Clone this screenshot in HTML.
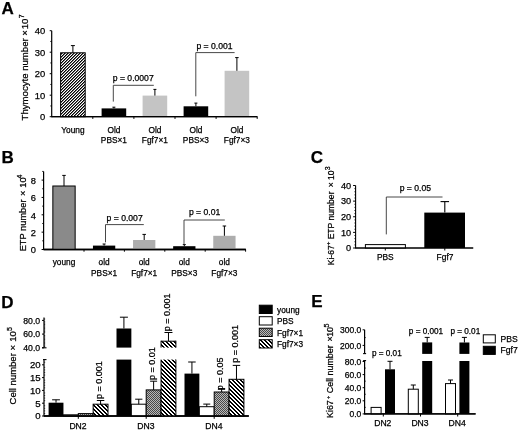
<!DOCTYPE html>
<html><head><meta charset="utf-8"><style>
html,body{margin:0;padding:0;background:#fff;}
svg{display:block;filter:blur(0.3px);font-family:"Liberation Sans", sans-serif;}
text{stroke:#000;stroke-width:0.25px;}
</style></head><body>
<svg width="520" height="432" viewBox="0 0 520 432">
<defs>
<pattern id="hatchA" patternUnits="userSpaceOnUse" width="3" height="3">
<rect width="3" height="3" fill="#000"/>
<rect x="1" y="0" width="1" height="1" fill="#707070"/><rect x="2" y="0" width="1" height="1" fill="#fff"/><rect x="0" y="1" width="1" height="1" fill="#707070"/><rect x="1" y="1" width="1" height="1" fill="#fff"/><rect x="0" y="2" width="1" height="1" fill="#fff"/><rect x="2" y="2" width="1" height="1" fill="#707070"/>
</pattern>
<pattern id="hatchD" patternUnits="userSpaceOnUse" width="4" height="4">
<rect width="4" height="4" fill="#000"/>
<rect x="2" y="0" width="1" height="1" fill="#fff"/><rect x="3" y="0" width="1" height="1" fill="#fff"/><rect x="0" y="1" width="1" height="1" fill="#fff"/><rect x="3" y="1" width="1" height="1" fill="#fff"/><rect x="0" y="2" width="1" height="1" fill="#fff"/><rect x="1" y="2" width="1" height="1" fill="#fff"/><rect x="1" y="3" width="1" height="1" fill="#fff"/><rect x="2" y="3" width="1" height="1" fill="#fff"/>
</pattern>
<pattern id="stipB" patternUnits="userSpaceOnUse" width="2" height="2">
<rect width="2" height="2" fill="#a8a8a8"/>
<rect width="1" height="1" fill="#6e6e6e"/><rect x="1" y="1" width="1" height="1" fill="#6e6e6e"/>
</pattern>
<pattern id="stipD" patternUnits="userSpaceOnUse" width="2" height="2">
<rect width="2" height="2" fill="#b8b8b8"/>
<rect width="1" height="1" fill="#484848"/><rect x="1" y="1" width="1" height="1" fill="#484848"/>
</pattern>
</defs>
<rect width="520" height="432" fill="#fff"/>
<text x="1.50" y="14.20" font-size="17" text-anchor="start" font-weight="bold" fill="#000" >A</text>
<line x1="51.70" y1="30.70" x2="51.70" y2="117.20" stroke="#000" stroke-width="1.2"/>
<line x1="49.70" y1="116.70" x2="51.70" y2="116.70" stroke="#000" stroke-width="1"/>
<text x="45.20" y="120.20" font-size="9.4" text-anchor="end" font-weight="normal" fill="#000" >0</text>
<line x1="49.70" y1="95.20" x2="51.70" y2="95.20" stroke="#000" stroke-width="1"/>
<text x="45.20" y="98.70" font-size="9.4" text-anchor="end" font-weight="normal" fill="#000" >10</text>
<line x1="49.70" y1="73.70" x2="51.70" y2="73.70" stroke="#000" stroke-width="1"/>
<text x="45.20" y="77.20" font-size="9.4" text-anchor="end" font-weight="normal" fill="#000" >20</text>
<line x1="49.70" y1="52.20" x2="51.70" y2="52.20" stroke="#000" stroke-width="1"/>
<text x="45.20" y="55.70" font-size="9.4" text-anchor="end" font-weight="normal" fill="#000" >30</text>
<line x1="49.70" y1="30.70" x2="51.70" y2="30.70" stroke="#000" stroke-width="1"/>
<text x="45.20" y="34.20" font-size="9.4" text-anchor="end" font-weight="normal" fill="#000" >40</text>
<line x1="50.40" y1="105.95" x2="51.70" y2="105.95" stroke="#000" stroke-width="1"/>
<line x1="50.40" y1="84.45" x2="51.70" y2="84.45" stroke="#000" stroke-width="1"/>
<line x1="50.40" y1="62.95" x2="51.70" y2="62.95" stroke="#000" stroke-width="1"/>
<line x1="50.40" y1="41.45" x2="51.70" y2="41.45" stroke="#000" stroke-width="1"/>
<line x1="51.70" y1="116.70" x2="257.30" y2="116.70" stroke="#000" stroke-width="1.3"/>
<line x1="92.80" y1="116.70" x2="92.80" y2="118.90" stroke="#000" stroke-width="1"/>
<line x1="133.90" y1="116.70" x2="133.90" y2="118.90" stroke="#000" stroke-width="1"/>
<line x1="175.00" y1="116.70" x2="175.00" y2="118.90" stroke="#000" stroke-width="1"/>
<line x1="216.10" y1="116.70" x2="216.10" y2="118.90" stroke="#000" stroke-width="1"/>
<line x1="257.20" y1="116.70" x2="257.20" y2="118.90" stroke="#000" stroke-width="1"/>
<rect x="60.60" y="52.80" width="24.60" height="63.90" fill="url(#hatchA)" stroke="#000" stroke-width="1"/>
<line x1="72.90" y1="52.80" x2="72.90" y2="45.60" stroke="#000" stroke-width="1"/>
<line x1="70.90" y1="45.60" x2="74.90" y2="45.60" stroke="#000" stroke-width="1"/>
<rect x="101.60" y="108.40" width="24.60" height="8.30" fill="#000"/>
<line x1="113.90" y1="108.40" x2="113.90" y2="107.20" stroke="#000" stroke-width="1"/>
<line x1="112.40" y1="107.20" x2="115.40" y2="107.20" stroke="#000" stroke-width="1"/>
<rect x="142.60" y="95.60" width="24.60" height="21.10" fill="#c4c4c4"/>
<line x1="154.90" y1="95.60" x2="154.90" y2="89.40" stroke="#000" stroke-width="1"/>
<line x1="153.40" y1="89.40" x2="156.40" y2="89.40" stroke="#000" stroke-width="1"/>
<rect x="183.60" y="106.30" width="24.60" height="10.40" fill="#000"/>
<line x1="195.90" y1="106.30" x2="195.90" y2="103.10" stroke="#000" stroke-width="1"/>
<line x1="194.40" y1="103.10" x2="197.40" y2="103.10" stroke="#000" stroke-width="1"/>
<rect x="224.60" y="70.80" width="24.60" height="45.90" fill="#c4c4c4"/>
<line x1="236.90" y1="70.80" x2="236.90" y2="57.60" stroke="#000" stroke-width="1"/>
<line x1="235.15" y1="57.60" x2="238.65" y2="57.60" stroke="#000" stroke-width="1"/>
<line x1="51.70" y1="116.70" x2="257.30" y2="116.70" stroke="#000" stroke-width="1.3"/>
<line x1="113.30" y1="101.60" x2="113.30" y2="85.30" stroke="#333" stroke-width="0.9"/>
<line x1="113.30" y1="85.30" x2="153.80" y2="85.30" stroke="#333" stroke-width="0.9"/>
<text x="112.80" y="80.60" font-size="8.6" text-anchor="start" font-weight="normal" fill="#000" >p = 0.0007</text>
<line x1="195.80" y1="96.30" x2="195.80" y2="52.60" stroke="#333" stroke-width="0.9"/>
<line x1="195.80" y1="52.60" x2="234.60" y2="52.60" stroke="#333" stroke-width="0.9"/>
<text x="196.40" y="49.40" font-size="8.6" text-anchor="start" font-weight="normal" fill="#000" >p = 0.001</text>
<text x="72.90" y="133.10" font-size="8.3" text-anchor="middle" font-weight="normal" fill="#000" >Young</text>
<text x="113.90" y="133.10" font-size="8.3" text-anchor="middle" font-weight="normal" fill="#000" >Old</text>
<text x="113.90" y="142.90" font-size="8.3" text-anchor="middle" font-weight="normal" fill="#000" >PBS×1</text>
<text x="154.90" y="133.10" font-size="8.3" text-anchor="middle" font-weight="normal" fill="#000" >Old</text>
<text x="154.90" y="142.90" font-size="8.3" text-anchor="middle" font-weight="normal" fill="#000" >Fgf7×1</text>
<text x="195.90" y="133.10" font-size="8.3" text-anchor="middle" font-weight="normal" fill="#000" >Old</text>
<text x="195.90" y="142.90" font-size="8.3" text-anchor="middle" font-weight="normal" fill="#000" >PBS×3</text>
<text x="236.90" y="133.10" font-size="8.3" text-anchor="middle" font-weight="normal" fill="#000" >Old</text>
<text x="236.90" y="142.90" font-size="8.3" text-anchor="middle" font-weight="normal" fill="#000" >Fgf7×3</text>
<text transform="translate(27.50,120.40) rotate(-90)" font-size="9.6" text-anchor="start" fill="#000">Thymocyte number ×<tspan dx="0.8">10</tspan><tspan dy="-3.9" dx="0.3" font-size="6.8">7</tspan></text>
<text x="1.40" y="162.60" font-size="17" text-anchor="start" font-weight="bold" fill="#000" >B</text>
<line x1="43.60" y1="171.43" x2="43.60" y2="250.00" stroke="#000" stroke-width="1.2"/>
<line x1="41.60" y1="249.50" x2="43.60" y2="249.50" stroke="#000" stroke-width="1"/>
<text x="36.00" y="253.30" font-size="9.3" text-anchor="end" font-weight="normal" fill="#000" >0</text>
<line x1="41.60" y1="232.15" x2="43.60" y2="232.15" stroke="#000" stroke-width="1"/>
<text x="36.00" y="235.95" font-size="9.3" text-anchor="end" font-weight="normal" fill="#000" >2</text>
<line x1="41.60" y1="214.80" x2="43.60" y2="214.80" stroke="#000" stroke-width="1"/>
<text x="36.00" y="218.60" font-size="9.3" text-anchor="end" font-weight="normal" fill="#000" >4</text>
<line x1="41.60" y1="197.45" x2="43.60" y2="197.45" stroke="#000" stroke-width="1"/>
<text x="36.00" y="201.25" font-size="9.3" text-anchor="end" font-weight="normal" fill="#000" >6</text>
<line x1="41.60" y1="180.10" x2="43.60" y2="180.10" stroke="#000" stroke-width="1"/>
<text x="36.00" y="183.90" font-size="9.3" text-anchor="end" font-weight="normal" fill="#000" >8</text>
<line x1="42.30" y1="240.82" x2="43.60" y2="240.82" stroke="#000" stroke-width="1"/>
<line x1="42.30" y1="223.47" x2="43.60" y2="223.47" stroke="#000" stroke-width="1"/>
<line x1="42.30" y1="206.12" x2="43.60" y2="206.12" stroke="#000" stroke-width="1"/>
<line x1="42.30" y1="188.77" x2="43.60" y2="188.77" stroke="#000" stroke-width="1"/>
<line x1="42.30" y1="171.43" x2="43.60" y2="171.43" stroke="#000" stroke-width="1"/>
<line x1="43.60" y1="249.50" x2="245.80" y2="249.50" stroke="#000" stroke-width="1.3"/>
<line x1="84.00" y1="249.50" x2="84.00" y2="251.70" stroke="#000" stroke-width="1"/>
<line x1="124.40" y1="249.50" x2="124.40" y2="251.70" stroke="#000" stroke-width="1"/>
<line x1="164.80" y1="249.50" x2="164.80" y2="251.70" stroke="#000" stroke-width="1"/>
<line x1="205.20" y1="249.50" x2="205.20" y2="251.70" stroke="#000" stroke-width="1"/>
<line x1="245.60" y1="249.50" x2="245.60" y2="251.70" stroke="#000" stroke-width="1"/>
<rect x="52.85" y="186.00" width="22.30" height="63.50" fill="#8a8a8a" stroke="#000" stroke-width="1"/>
<line x1="64.00" y1="186.00" x2="64.00" y2="175.40" stroke="#000" stroke-width="1"/>
<line x1="62.25" y1="175.40" x2="65.75" y2="175.40" stroke="#000" stroke-width="1"/>
<rect x="92.95" y="245.60" width="22.30" height="3.90" fill="#000"/>
<line x1="104.10" y1="245.60" x2="104.10" y2="244.00" stroke="#000" stroke-width="1"/>
<line x1="102.60" y1="244.00" x2="105.60" y2="244.00" stroke="#000" stroke-width="1"/>
<rect x="133.05" y="240.00" width="22.30" height="9.50" fill="#adadad"/>
<line x1="144.20" y1="240.00" x2="144.20" y2="234.40" stroke="#000" stroke-width="1"/>
<line x1="142.45" y1="234.40" x2="145.95" y2="234.40" stroke="#000" stroke-width="1"/>
<rect x="173.15" y="246.20" width="22.30" height="3.30" fill="#000"/>
<line x1="184.30" y1="246.20" x2="184.30" y2="244.60" stroke="#000" stroke-width="1"/>
<line x1="182.80" y1="244.60" x2="185.80" y2="244.60" stroke="#000" stroke-width="1"/>
<rect x="213.25" y="235.80" width="22.30" height="13.70" fill="#adadad"/>
<line x1="224.40" y1="235.80" x2="224.40" y2="226.00" stroke="#000" stroke-width="1"/>
<line x1="222.65" y1="226.00" x2="226.15" y2="226.00" stroke="#000" stroke-width="1"/>
<line x1="43.60" y1="249.50" x2="245.80" y2="249.50" stroke="#000" stroke-width="1.3"/>
<line x1="105.50" y1="242.30" x2="105.50" y2="224.60" stroke="#333" stroke-width="0.9"/>
<line x1="105.50" y1="224.60" x2="143.80" y2="224.60" stroke="#333" stroke-width="0.9"/>
<text x="106.60" y="220.60" font-size="8.6" text-anchor="start" font-weight="normal" fill="#000" >p = 0.007</text>
<line x1="184.00" y1="244.80" x2="184.00" y2="220.00" stroke="#333" stroke-width="0.9"/>
<line x1="184.00" y1="220.00" x2="224.80" y2="220.00" stroke="#333" stroke-width="0.9"/>
<text x="188.90" y="214.90" font-size="8.6" text-anchor="start" font-weight="normal" fill="#000" >p = 0.01</text>
<text x="64.00" y="265.30" font-size="8.3" text-anchor="middle" font-weight="normal" fill="#000" >young</text>
<text x="104.10" y="265.30" font-size="8.3" text-anchor="middle" font-weight="normal" fill="#000" >old</text>
<text x="104.10" y="276.00" font-size="8.3" text-anchor="middle" font-weight="normal" fill="#000" >PBS×1</text>
<text x="144.20" y="265.30" font-size="8.3" text-anchor="middle" font-weight="normal" fill="#000" >old</text>
<text x="144.20" y="276.00" font-size="8.3" text-anchor="middle" font-weight="normal" fill="#000" >Fgf7×1</text>
<text x="184.30" y="265.30" font-size="8.3" text-anchor="middle" font-weight="normal" fill="#000" >old</text>
<text x="184.30" y="276.00" font-size="8.3" text-anchor="middle" font-weight="normal" fill="#000" >PBS×3</text>
<text x="224.40" y="265.30" font-size="8.3" text-anchor="middle" font-weight="normal" fill="#000" >old</text>
<text x="224.40" y="276.00" font-size="8.3" text-anchor="middle" font-weight="normal" fill="#000" >Fgf7×3</text>
<text transform="translate(26.10,251.30) rotate(-90)" font-size="9.25" text-anchor="start" fill="#000">ETP number<tspan x="55.3">×</tspan><tspan x="63.6">10</tspan><tspan x="72.7" dy="-3.9" font-size="7">4</tspan></text>
<text x="310.70" y="163.20" font-size="17" text-anchor="start" font-weight="bold" fill="#000" >C</text>
<line x1="355.60" y1="185.50" x2="355.60" y2="248.50" stroke="#000" stroke-width="1.1"/>
<line x1="353.10" y1="248.00" x2="355.60" y2="248.00" stroke="#000" stroke-width="1"/>
<text x="351.20" y="251.30" font-size="9.2" text-anchor="end" font-weight="normal" fill="#000" >0</text>
<line x1="353.10" y1="232.38" x2="355.60" y2="232.38" stroke="#000" stroke-width="1"/>
<text x="351.20" y="235.68" font-size="9.2" text-anchor="end" font-weight="normal" fill="#000" >10</text>
<line x1="353.10" y1="216.75" x2="355.60" y2="216.75" stroke="#000" stroke-width="1"/>
<text x="351.20" y="220.05" font-size="9.2" text-anchor="end" font-weight="normal" fill="#000" >20</text>
<line x1="353.10" y1="201.12" x2="355.60" y2="201.12" stroke="#000" stroke-width="1"/>
<text x="351.20" y="204.43" font-size="9.2" text-anchor="end" font-weight="normal" fill="#000" >30</text>
<line x1="353.10" y1="185.50" x2="355.60" y2="185.50" stroke="#000" stroke-width="1"/>
<text x="351.20" y="188.80" font-size="9.2" text-anchor="end" font-weight="normal" fill="#000" >40</text>
<line x1="354.40" y1="244.88" x2="355.60" y2="244.88" stroke="#000" stroke-width="0.8"/>
<line x1="354.40" y1="241.75" x2="355.60" y2="241.75" stroke="#000" stroke-width="0.8"/>
<line x1="354.40" y1="238.62" x2="355.60" y2="238.62" stroke="#000" stroke-width="0.8"/>
<line x1="354.40" y1="235.50" x2="355.60" y2="235.50" stroke="#000" stroke-width="0.8"/>
<line x1="354.40" y1="229.25" x2="355.60" y2="229.25" stroke="#000" stroke-width="0.8"/>
<line x1="354.40" y1="226.12" x2="355.60" y2="226.12" stroke="#000" stroke-width="0.8"/>
<line x1="354.40" y1="223.00" x2="355.60" y2="223.00" stroke="#000" stroke-width="0.8"/>
<line x1="354.40" y1="219.88" x2="355.60" y2="219.88" stroke="#000" stroke-width="0.8"/>
<line x1="354.40" y1="213.62" x2="355.60" y2="213.62" stroke="#000" stroke-width="0.8"/>
<line x1="354.40" y1="210.50" x2="355.60" y2="210.50" stroke="#000" stroke-width="0.8"/>
<line x1="354.40" y1="207.38" x2="355.60" y2="207.38" stroke="#000" stroke-width="0.8"/>
<line x1="354.40" y1="204.25" x2="355.60" y2="204.25" stroke="#000" stroke-width="0.8"/>
<line x1="354.40" y1="198.00" x2="355.60" y2="198.00" stroke="#000" stroke-width="0.8"/>
<line x1="354.40" y1="194.88" x2="355.60" y2="194.88" stroke="#000" stroke-width="0.8"/>
<line x1="354.40" y1="191.75" x2="355.60" y2="191.75" stroke="#000" stroke-width="0.8"/>
<line x1="354.40" y1="188.62" x2="355.60" y2="188.62" stroke="#000" stroke-width="0.8"/>
<line x1="355.60" y1="248.00" x2="473.20" y2="248.00" stroke="#000" stroke-width="1.1"/>
<line x1="385.30" y1="248.00" x2="385.30" y2="250.50" stroke="#000" stroke-width="1"/>
<line x1="444.80" y1="248.00" x2="444.80" y2="250.50" stroke="#000" stroke-width="1"/>
<rect x="365.40" y="244.60" width="40.00" height="3.40" fill="#fff" stroke="#000" stroke-width="1"/>
<rect x="424.30" y="212.60" width="40.70" height="35.40" fill="#000"/>
<line x1="444.80" y1="212.60" x2="444.80" y2="201.60" stroke="#000" stroke-width="1.1"/>
<line x1="440.55" y1="201.60" x2="449.05" y2="201.60" stroke="#000" stroke-width="1.1"/>
<line x1="355.60" y1="248.00" x2="473.20" y2="248.00" stroke="#000" stroke-width="1.1"/>
<line x1="386.30" y1="234.40" x2="386.30" y2="197.00" stroke="#333" stroke-width="0.9"/>
<line x1="386.30" y1="197.00" x2="442.50" y2="197.00" stroke="#333" stroke-width="0.9"/>
<text x="399.70" y="191.30" font-size="8.6" text-anchor="start" font-weight="normal" fill="#000" >p = 0.05</text>
<text x="385.30" y="260.00" font-size="8.4" text-anchor="middle" font-weight="normal" fill="#000" >PBS</text>
<text x="445.00" y="260.00" font-size="8.4" text-anchor="middle" font-weight="normal" fill="#000" >Fgf7</text>
<text transform="translate(333.80,265.30) rotate(-90)" font-size="8.55" text-anchor="start" fill="#000">Ki-67<tspan dy="-3.4" font-size="6.2">+</tspan><tspan dy="3.4"> ETP number </tspan><tspan dx="1.8">×</tspan><tspan dx="2.4">10</tspan><tspan dy="-3.6" dx="0.3" font-size="7">3</tspan></text>
<text x="1.20" y="307.70" font-size="17" text-anchor="start" font-weight="bold" fill="#000" >D</text>
<line x1="44.00" y1="317.40" x2="44.00" y2="347.80" stroke="#000" stroke-width="1.2"/>
<line x1="42.00" y1="347.80" x2="46.50" y2="347.80" stroke="#000" stroke-width="1.1"/>
<line x1="42.00" y1="347.80" x2="44.00" y2="347.80" stroke="#000" stroke-width="1"/>
<text x="40.20" y="350.90" font-size="8.7" text-anchor="end" font-weight="normal" fill="#000" >40.0</text>
<line x1="42.00" y1="334.10" x2="44.00" y2="334.10" stroke="#000" stroke-width="1"/>
<text x="40.20" y="337.20" font-size="8.7" text-anchor="end" font-weight="normal" fill="#000" >60.0</text>
<line x1="42.00" y1="320.40" x2="44.00" y2="320.40" stroke="#000" stroke-width="1"/>
<text x="40.20" y="323.50" font-size="8.7" text-anchor="end" font-weight="normal" fill="#000" >80.0</text>
<line x1="44.00" y1="346.43" x2="45.20" y2="346.43" stroke="#000" stroke-width="0.7"/>
<line x1="44.00" y1="345.06" x2="45.20" y2="345.06" stroke="#000" stroke-width="0.7"/>
<line x1="44.00" y1="343.69" x2="45.20" y2="343.69" stroke="#000" stroke-width="0.7"/>
<line x1="44.00" y1="342.32" x2="45.20" y2="342.32" stroke="#000" stroke-width="0.7"/>
<line x1="44.00" y1="340.95" x2="45.20" y2="340.95" stroke="#000" stroke-width="0.7"/>
<line x1="44.00" y1="339.58" x2="45.20" y2="339.58" stroke="#000" stroke-width="0.7"/>
<line x1="44.00" y1="338.21" x2="45.20" y2="338.21" stroke="#000" stroke-width="0.7"/>
<line x1="44.00" y1="336.84" x2="45.20" y2="336.84" stroke="#000" stroke-width="0.7"/>
<line x1="44.00" y1="335.47" x2="45.20" y2="335.47" stroke="#000" stroke-width="0.7"/>
<line x1="44.00" y1="332.73" x2="45.20" y2="332.73" stroke="#000" stroke-width="0.7"/>
<line x1="44.00" y1="331.36" x2="45.20" y2="331.36" stroke="#000" stroke-width="0.7"/>
<line x1="44.00" y1="329.99" x2="45.20" y2="329.99" stroke="#000" stroke-width="0.7"/>
<line x1="44.00" y1="328.62" x2="45.20" y2="328.62" stroke="#000" stroke-width="0.7"/>
<line x1="44.00" y1="327.25" x2="45.20" y2="327.25" stroke="#000" stroke-width="0.7"/>
<line x1="44.00" y1="325.88" x2="45.20" y2="325.88" stroke="#000" stroke-width="0.7"/>
<line x1="44.00" y1="324.51" x2="45.20" y2="324.51" stroke="#000" stroke-width="0.7"/>
<line x1="44.00" y1="323.14" x2="45.20" y2="323.14" stroke="#000" stroke-width="0.7"/>
<line x1="44.00" y1="321.77" x2="45.20" y2="321.77" stroke="#000" stroke-width="0.7"/>
<line x1="44.00" y1="319.03" x2="45.20" y2="319.03" stroke="#000" stroke-width="0.7"/>
<line x1="44.00" y1="359.60" x2="44.00" y2="416.50" stroke="#000" stroke-width="1.2"/>
<line x1="43.00" y1="359.60" x2="46.50" y2="359.60" stroke="#000" stroke-width="1.1"/>
<line x1="42.00" y1="416.00" x2="44.00" y2="416.00" stroke="#000" stroke-width="1"/>
<text x="40.60" y="419.30" font-size="9.6" text-anchor="end" font-weight="normal" fill="#000" >0</text>
<line x1="42.00" y1="403.20" x2="44.00" y2="403.20" stroke="#000" stroke-width="1"/>
<text x="40.60" y="406.50" font-size="9.6" text-anchor="end" font-weight="normal" fill="#000" >5</text>
<line x1="42.00" y1="390.40" x2="44.00" y2="390.40" stroke="#000" stroke-width="1"/>
<text x="40.60" y="393.70" font-size="9.6" text-anchor="end" font-weight="normal" fill="#000" >10</text>
<line x1="42.00" y1="377.60" x2="44.00" y2="377.60" stroke="#000" stroke-width="1"/>
<text x="40.60" y="380.90" font-size="9.6" text-anchor="end" font-weight="normal" fill="#000" >15</text>
<line x1="42.00" y1="364.80" x2="44.00" y2="364.80" stroke="#000" stroke-width="1"/>
<text x="40.60" y="368.10" font-size="9.6" text-anchor="end" font-weight="normal" fill="#000" >20</text>
<line x1="44.00" y1="413.44" x2="45.20" y2="413.44" stroke="#000" stroke-width="0.7"/>
<line x1="44.00" y1="410.88" x2="45.20" y2="410.88" stroke="#000" stroke-width="0.7"/>
<line x1="44.00" y1="408.32" x2="45.20" y2="408.32" stroke="#000" stroke-width="0.7"/>
<line x1="44.00" y1="405.76" x2="45.20" y2="405.76" stroke="#000" stroke-width="0.7"/>
<line x1="44.00" y1="400.64" x2="45.20" y2="400.64" stroke="#000" stroke-width="0.7"/>
<line x1="44.00" y1="398.08" x2="45.20" y2="398.08" stroke="#000" stroke-width="0.7"/>
<line x1="44.00" y1="395.52" x2="45.20" y2="395.52" stroke="#000" stroke-width="0.7"/>
<line x1="44.00" y1="392.96" x2="45.20" y2="392.96" stroke="#000" stroke-width="0.7"/>
<line x1="44.00" y1="387.84" x2="45.20" y2="387.84" stroke="#000" stroke-width="0.7"/>
<line x1="44.00" y1="385.28" x2="45.20" y2="385.28" stroke="#000" stroke-width="0.7"/>
<line x1="44.00" y1="382.72" x2="45.20" y2="382.72" stroke="#000" stroke-width="0.7"/>
<line x1="44.00" y1="380.16" x2="45.20" y2="380.16" stroke="#000" stroke-width="0.7"/>
<line x1="44.00" y1="375.04" x2="45.20" y2="375.04" stroke="#000" stroke-width="0.7"/>
<line x1="44.00" y1="372.48" x2="45.20" y2="372.48" stroke="#000" stroke-width="0.7"/>
<line x1="44.00" y1="369.92" x2="45.20" y2="369.92" stroke="#000" stroke-width="0.7"/>
<line x1="44.00" y1="367.36" x2="45.20" y2="367.36" stroke="#000" stroke-width="0.7"/>
<line x1="44.00" y1="362.24" x2="45.20" y2="362.24" stroke="#000" stroke-width="0.7"/>
<line x1="44.00" y1="416.00" x2="248.80" y2="416.00" stroke="#000" stroke-width="1.3"/>
<rect x="48.60" y="402.70" width="14.85" height="13.30" fill="#000"/>
<line x1="56.02" y1="402.70" x2="56.02" y2="399.80" stroke="#000" stroke-width="1"/>
<line x1="52.12" y1="399.80" x2="59.92" y2="399.80" stroke="#000" stroke-width="1"/>
<rect x="63.45" y="414.80" width="14.85" height="1.20" fill="#fff" stroke="#000" stroke-width="1"/>
<rect x="78.30" y="413.60" width="14.85" height="2.40" fill="url(#stipD)" stroke="#000" stroke-width="1"/>
<rect x="93.15" y="404.20" width="14.85" height="11.80" fill="url(#hatchD)" stroke="#000" stroke-width="1"/>
<line x1="100.58" y1="404.20" x2="100.58" y2="400.50" stroke="#000" stroke-width="1"/>
<line x1="96.83" y1="400.50" x2="104.33" y2="400.50" stroke="#000" stroke-width="1"/>
<rect x="116.50" y="359.60" width="14.85" height="56.40" fill="#000"/>
<rect x="116.50" y="328.50" width="14.85" height="19.10" fill="#000"/>
<line x1="123.92" y1="328.50" x2="123.92" y2="317.20" stroke="#000" stroke-width="1"/>
<line x1="119.92" y1="317.20" x2="127.92" y2="317.20" stroke="#000" stroke-width="1"/>
<rect x="131.35" y="404.20" width="14.85" height="11.80" fill="#fff" stroke="#000" stroke-width="1"/>
<line x1="138.78" y1="404.20" x2="138.78" y2="399.20" stroke="#000" stroke-width="1"/>
<line x1="135.18" y1="399.20" x2="142.38" y2="399.20" stroke="#000" stroke-width="1"/>
<rect x="146.20" y="389.90" width="14.85" height="26.10" fill="url(#stipD)" stroke="#000" stroke-width="1"/>
<line x1="153.62" y1="389.90" x2="153.62" y2="381.20" stroke="#000" stroke-width="1"/>
<line x1="150.12" y1="381.20" x2="157.12" y2="381.20" stroke="#000" stroke-width="1"/>
<rect x="161.05" y="359.60" width="14.85" height="56.40" fill="url(#hatchD)"/>
<rect x="161.05" y="341.20" width="14.85" height="6.40" fill="url(#hatchD)"/>
<line x1="161.05" y1="359.60" x2="161.05" y2="416.00" stroke="#000" stroke-width="1"/>
<line x1="175.90" y1="359.60" x2="175.90" y2="416.00" stroke="#000" stroke-width="1"/>
<line x1="161.05" y1="340.70" x2="161.05" y2="347.60" stroke="#000" stroke-width="1"/>
<line x1="175.90" y1="340.70" x2="175.90" y2="347.60" stroke="#000" stroke-width="1"/>
<line x1="161.05" y1="341.20" x2="175.90" y2="341.20" stroke="#000" stroke-width="1"/>
<line x1="168.48" y1="341.20" x2="168.48" y2="332.50" stroke="#000" stroke-width="1"/>
<line x1="164.48" y1="332.50" x2="172.48" y2="332.50" stroke="#000" stroke-width="1"/>
<rect x="184.50" y="373.60" width="14.85" height="42.40" fill="#000"/>
<line x1="191.93" y1="373.60" x2="191.93" y2="362.00" stroke="#000" stroke-width="1"/>
<line x1="188.18" y1="362.00" x2="195.68" y2="362.00" stroke="#000" stroke-width="1"/>
<rect x="199.35" y="406.70" width="14.85" height="9.30" fill="#fff" stroke="#000" stroke-width="1"/>
<line x1="206.78" y1="406.70" x2="206.78" y2="404.10" stroke="#000" stroke-width="1"/>
<line x1="203.28" y1="404.10" x2="210.28" y2="404.10" stroke="#000" stroke-width="1"/>
<rect x="214.20" y="392.00" width="14.85" height="24.00" fill="url(#stipD)" stroke="#000" stroke-width="1"/>
<line x1="221.62" y1="392.00" x2="221.62" y2="388.60" stroke="#000" stroke-width="1"/>
<line x1="218.12" y1="388.60" x2="225.12" y2="388.60" stroke="#000" stroke-width="1"/>
<rect x="229.05" y="379.30" width="14.85" height="36.70" fill="url(#hatchD)" stroke="#000" stroke-width="1"/>
<line x1="236.48" y1="379.30" x2="236.48" y2="365.40" stroke="#000" stroke-width="1"/>
<line x1="232.73" y1="365.40" x2="240.23" y2="365.40" stroke="#000" stroke-width="1"/>
<line x1="44.00" y1="416.00" x2="248.80" y2="416.00" stroke="#000" stroke-width="1.3"/>
<line x1="78.30" y1="416.00" x2="78.30" y2="418.80" stroke="#000" stroke-width="1"/>
<text x="78.00" y="429.40" font-size="8.6" text-anchor="middle" font-weight="normal" fill="#000" >DN2</text>
<line x1="146.20" y1="416.00" x2="146.20" y2="418.80" stroke="#000" stroke-width="1"/>
<text x="145.90" y="429.40" font-size="8.6" text-anchor="middle" font-weight="normal" fill="#000" >DN3</text>
<line x1="214.20" y1="416.00" x2="214.20" y2="418.80" stroke="#000" stroke-width="1"/>
<text x="213.90" y="429.40" font-size="8.6" text-anchor="middle" font-weight="normal" fill="#000" >DN4</text>
<text transform="translate(101.60,399.10) rotate(-90)" font-size="9.0" text-anchor="start" fill="#000">p = 0.001</text>
<text transform="translate(155.20,379.90) rotate(-90)" font-size="9.0" text-anchor="start" fill="#000">p = 0.01</text>
<text transform="translate(169.50,331.20) rotate(-90)" font-size="9.0" text-anchor="start" fill="#000">p = 0.001</text>
<text transform="translate(223.40,390.30) rotate(-90)" font-size="9.0" text-anchor="start" fill="#000">p = 0.05</text>
<text transform="translate(237.60,362.70) rotate(-90)" font-size="9.0" text-anchor="start" fill="#000">p = 0.001</text>
<text transform="translate(16.00,404.40) rotate(-90)" font-size="9.5" text-anchor="start" fill="#000">Cell number ×<tspan dx="3.2">10</tspan><tspan dy="-3.9" dx="0.3" font-size="7">5</tspan></text>
<rect x="259.30" y="305.20" width="12.90" height="8.30" fill="#000" stroke="#000" stroke-width="1"/>
<text x="277.00" y="312.60" font-size="8.3" text-anchor="start" font-weight="normal" fill="#000" >young</text>
<rect x="259.30" y="316.70" width="12.90" height="8.30" fill="#fff" stroke="#000" stroke-width="1"/>
<text x="277.00" y="324.10" font-size="8.3" text-anchor="start" font-weight="normal" fill="#000" >PBS</text>
<rect x="259.30" y="328.20" width="12.90" height="8.30" fill="url(#stipD)" stroke="#000" stroke-width="1"/>
<text x="277.00" y="335.60" font-size="8.3" text-anchor="start" font-weight="normal" fill="#000" >Fgf7×1</text>
<rect x="259.30" y="339.70" width="12.90" height="8.30" fill="url(#hatchD)" stroke="#000" stroke-width="1"/>
<text x="277.00" y="347.10" font-size="8.3" text-anchor="start" font-weight="normal" fill="#000" >Fgf7×3</text>
<text x="311.20" y="307.10" font-size="17" text-anchor="start" font-weight="bold" fill="#000" >E</text>
<line x1="364.60" y1="329.80" x2="364.60" y2="353.60" stroke="#000" stroke-width="1.2"/>
<line x1="363.10" y1="353.60" x2="366.10" y2="353.60" stroke="#000" stroke-width="1.1"/>
<line x1="362.60" y1="345.40" x2="364.60" y2="345.40" stroke="#000" stroke-width="1"/>
<text x="361.30" y="348.50" font-size="8.5" text-anchor="end" font-weight="normal" fill="#000" >200.0</text>
<line x1="362.60" y1="329.80" x2="364.60" y2="329.80" stroke="#000" stroke-width="1"/>
<text x="361.30" y="332.90" font-size="8.5" text-anchor="end" font-weight="normal" fill="#000" >300.0</text>
<line x1="364.60" y1="337.60" x2="365.80" y2="337.60" stroke="#000" stroke-width="0.8"/>
<line x1="364.60" y1="360.60" x2="364.60" y2="414.40" stroke="#000" stroke-width="1.2"/>
<line x1="363.10" y1="360.60" x2="366.10" y2="360.60" stroke="#000" stroke-width="1.1"/>
<line x1="362.60" y1="413.90" x2="364.60" y2="413.90" stroke="#000" stroke-width="1"/>
<text x="361.30" y="417.00" font-size="8.5" text-anchor="end" font-weight="normal" fill="#000" >0.0</text>
<line x1="362.60" y1="400.80" x2="364.60" y2="400.80" stroke="#000" stroke-width="1"/>
<text x="361.30" y="403.90" font-size="8.5" text-anchor="end" font-weight="normal" fill="#000" >20.0</text>
<line x1="362.60" y1="387.70" x2="364.60" y2="387.70" stroke="#000" stroke-width="1"/>
<text x="361.30" y="390.80" font-size="8.5" text-anchor="end" font-weight="normal" fill="#000" >40.0</text>
<line x1="362.60" y1="374.60" x2="364.60" y2="374.60" stroke="#000" stroke-width="1"/>
<text x="361.30" y="377.70" font-size="8.5" text-anchor="end" font-weight="normal" fill="#000" >60.0</text>
<line x1="362.60" y1="361.50" x2="364.60" y2="361.50" stroke="#000" stroke-width="1"/>
<text x="361.30" y="364.60" font-size="8.5" text-anchor="end" font-weight="normal" fill="#000" >80.0</text>
<line x1="364.60" y1="407.35" x2="365.80" y2="407.35" stroke="#000" stroke-width="0.8"/>
<line x1="364.60" y1="394.25" x2="365.80" y2="394.25" stroke="#000" stroke-width="0.8"/>
<line x1="364.60" y1="381.15" x2="365.80" y2="381.15" stroke="#000" stroke-width="0.8"/>
<line x1="364.60" y1="368.05" x2="365.80" y2="368.05" stroke="#000" stroke-width="0.8"/>
<line x1="364.60" y1="413.90" x2="475.60" y2="413.90" stroke="#000" stroke-width="1.3"/>
<line x1="383.30" y1="413.90" x2="383.30" y2="416.50" stroke="#000" stroke-width="1"/>
<text x="382.80" y="426.40" font-size="8.6" text-anchor="middle" font-weight="normal" fill="#000" >DN2</text>
<line x1="420.50" y1="413.90" x2="420.50" y2="416.50" stroke="#000" stroke-width="1"/>
<text x="420.00" y="426.40" font-size="8.6" text-anchor="middle" font-weight="normal" fill="#000" >DN3</text>
<line x1="457.70" y1="413.90" x2="457.70" y2="416.50" stroke="#000" stroke-width="1"/>
<text x="457.20" y="426.40" font-size="8.6" text-anchor="middle" font-weight="normal" fill="#000" >DN4</text>
<rect x="371.10" y="407.40" width="10.00" height="6.50" fill="#fff" stroke="#000" stroke-width="1"/>
<rect x="385.00" y="369.30" width="10.00" height="44.60" fill="#000"/>
<line x1="390.00" y1="369.30" x2="390.00" y2="361.30" stroke="#000" stroke-width="1"/>
<line x1="387.50" y1="361.30" x2="392.50" y2="361.30" stroke="#000" stroke-width="1"/>
<rect x="408.30" y="389.20" width="10.00" height="24.70" fill="#fff" stroke="#000" stroke-width="1"/>
<line x1="413.30" y1="389.20" x2="413.30" y2="385.00" stroke="#000" stroke-width="1"/>
<line x1="410.80" y1="385.00" x2="415.80" y2="385.00" stroke="#000" stroke-width="1"/>
<rect x="422.20" y="361.00" width="10.00" height="52.90" fill="#000"/>
<rect x="422.20" y="342.40" width="10.00" height="11.50" fill="#000"/>
<line x1="427.20" y1="342.40" x2="427.20" y2="337.40" stroke="#000" stroke-width="1"/>
<line x1="424.70" y1="337.40" x2="429.70" y2="337.40" stroke="#000" stroke-width="1"/>
<rect x="445.50" y="383.60" width="10.00" height="30.30" fill="#fff" stroke="#000" stroke-width="1"/>
<line x1="450.50" y1="383.60" x2="450.50" y2="380.00" stroke="#000" stroke-width="1"/>
<line x1="448.00" y1="380.00" x2="453.00" y2="380.00" stroke="#000" stroke-width="1"/>
<rect x="459.40" y="361.00" width="10.00" height="52.90" fill="#000"/>
<rect x="459.40" y="342.50" width="10.00" height="11.40" fill="#000"/>
<line x1="464.40" y1="342.50" x2="464.40" y2="337.40" stroke="#000" stroke-width="1"/>
<line x1="461.90" y1="337.40" x2="466.90" y2="337.40" stroke="#000" stroke-width="1"/>
<line x1="364.60" y1="413.90" x2="475.60" y2="413.90" stroke="#000" stroke-width="1.3"/>
<text x="371.90" y="356.40" font-size="8.2" text-anchor="start" font-weight="normal" fill="#000" >p = 0.01</text>
<text x="408.80" y="333.60" font-size="8.2" text-anchor="start" font-weight="normal" fill="#000" >p = 0.001</text>
<text x="450.40" y="333.60" font-size="8.2" text-anchor="start" font-weight="normal" fill="#000" >p = 0.01</text>
<rect x="483.30" y="334.80" width="12.00" height="8.10" fill="#fff" stroke="#000" stroke-width="1"/>
<rect x="483.30" y="346.30" width="12.00" height="8.10" fill="#000" stroke="#000" stroke-width="1"/>
<text x="500.60" y="342.20" font-size="8.6" text-anchor="start" font-weight="normal" fill="#000" >PBS</text>
<text x="500.60" y="353.30" font-size="8.6" text-anchor="start" font-weight="normal" fill="#000" >Fgf7</text>
<text transform="translate(333.40,418.00) rotate(-90)" font-size="8.9" text-anchor="start" fill="#000">Ki67<tspan x="19.0" dy="-3.6" font-size="5.5">+</tspan><tspan x="24.8" dy="3.6">Cell number</tspan><tspan x="76.6">×</tspan><tspan x="81.2">10</tspan><tspan x="90.4" dy="-4.0" font-size="7.2">5</tspan></text>
</svg>
</body></html>
